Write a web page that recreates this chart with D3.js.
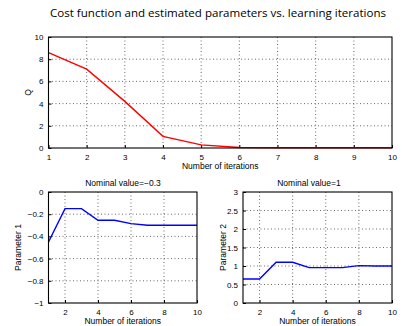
<!DOCTYPE html>
<html>
<head>
<meta charset="utf-8">
<script src="https://cdn.jsdelivr.net/npm/d3@7"></script>
<style>
  body { margin: 0; background: #fff; }
  svg { display: block; }
  text { font-family: "Liberation Sans", Arial, sans-serif; fill: #000; }
</style>
</head>
<body>
<svg id="chart" width="402" height="326"></svg>
<script>
let iterations = [1, 2, 3, 4, 5, 6, 7, 8, 9, 10];
let cost_q = [8.6, 7.1, 4.2, 1.05, 0.28, 0.05, 0.02, 0.02, 0.02, 0.02];
let param1 = [-0.45, -0.15, -0.15, -0.255, -0.255, -0.285, -0.3, -0.3, -0.3, -0.3];
let param2 = [0.65, 0.65, 1.1, 1.1, 0.955, 0.955, 0.955, 1.01, 1.0, 1.0];

let q_ticks = [0, 2, 4, 6, 8, 10];
let p1_ticks = [0, -0.2, -0.4, -0.6, -0.8, -1];
let p2_ticks = [0, 0.5, 1, 1.5, 2, 2.5, 3];
let top_xticks = [1, 2, 3, 4, 5, 6, 7, 8, 9, 10];
let bot_xticks = [2, 4, 6, 8, 10];

let svg = d3.select("#chart");

svg.append("text")
    .attr("x", 218)
    .attr("y", 17)
    .attr("text-anchor", "middle")
    .attr("font-size", 11)
    .attr("textLength", 336)
    .attr("lengthAdjust", "spacingAndGlyphs")
    .style("font-family", "'Open Sans', sans-serif")
    .text("Cost function and estimated parameters vs. learning iterations");

function fmt(v) {
    return String(v).replace("-", "\u2212");
}

function panel(opt) {
    let x = d3.scaleLinear().domain([1, 10]).range([opt.left, opt.right]);
    let y = d3.scaleLinear().domain(opt.ydom).range([opt.bottom, opt.top]);
    let g = svg.append("g");

    // grid
    g.append("g").selectAll("line")
        .data(opt.xticks.filter(d => d > 1 && d < 10))
        .join("line")
        .attr("x1", d => x(d)).attr("x2", d => x(d))
        .attr("y1", opt.top).attr("y2", opt.bottom)
        .attr("stroke", "#444").attr("stroke-width", 0.8)
        .attr("stroke-dasharray", "1,2.5");
    g.append("g").selectAll("line")
        .data(opt.yticks.filter(d => d > opt.ydom[0] && d < opt.ydom[1]))
        .join("line")
        .attr("y1", d => y(d)).attr("y2", d => y(d))
        .attr("x1", opt.left).attr("x2", opt.right)
        .attr("stroke", "#444").attr("stroke-width", 0.8)
        .attr("stroke-dasharray", "1,2.5");

    // axes, ticks inside
    let xa = g.append("g")
        .attr("transform", `translate(0,${opt.bottom})`)
        .call(d3.axisBottom(x).tickValues(opt.xticks).tickSize(-3).tickPadding(6).tickFormat(fmt));
    let ya = g.append("g")
        .attr("transform", `translate(${opt.left},0)`)
        .call(d3.axisLeft(y).tickValues(opt.yticks).tickSize(-3).tickPadding(5).tickFormat(fmt));
    [xa, ya].forEach(a => {
        a.select(".domain").remove();
        a.selectAll("text").attr("font-size", 8).style("font-family", "'Liberation Sans', Arial, sans-serif");
        a.selectAll(".tick line").attr("stroke", "#000");
    });

    // line
    g.append("path")
        .datum(iterations.map((d, i) => [d, opt.values[i]]))
        .attr("fill", "none")
        .attr("stroke", opt.color)
        .attr("stroke-width", 1.4)
        .attr("d", d3.line().x(d => x(d[0])).y(d => y(d[1])));

    // box
    g.append("rect")
        .attr("x", opt.left).attr("y", opt.top)
        .attr("width", opt.right - opt.left).attr("height", opt.bottom - opt.top)
        .attr("fill", "none").attr("stroke", "#000").attr("stroke-width", 1.1);

    g.append("text")
        .attr("x", (opt.left + opt.right) / 2)
        .attr("y", opt.xlabelY)
        .attr("text-anchor", "middle")
        .attr("font-size", 8.5)
        .text("Number of iterations");

    g.append("text")
        .attr("transform", `translate(${opt.ylabelX},${(opt.top + opt.bottom) / 2}) rotate(-90)`)
        .attr("text-anchor", "middle")
        .attr("font-size", 8.5)
        .text(opt.ylabel);

    if (opt.title) {
        g.append("text")
            .attr("x", opt.titleX)
            .attr("y", opt.top - 6)
            .attr("text-anchor", "middle")
            .attr("font-size", 8.5)
            .text(opt.title);
    }
}

panel({
    left: 48.5, right: 392, top: 37, bottom: 148,
    ydom: [0, 10], yticks: q_ticks, xticks: top_xticks,
    values: cost_q, color: "#ff0000",
    ylabel: "Q", ylabelX: 31, xlabelY: 169
});

panel({
    left: 48.5, right: 197, top: 192, bottom: 303,
    ydom: [-1, 0], yticks: p1_ticks, xticks: bot_xticks,
    values: param1, color: "#0000ff",
    ylabel: "Parameter 1", ylabelX: 21, xlabelY: 324,
    title: "Nominal value=\u22120.3", titleX: 123
});

panel({
    left: 243, right: 392, top: 192, bottom: 303,
    ydom: [0, 3], yticks: p2_ticks, xticks: bot_xticks,
    values: param2, color: "#0000ff",
    ylabel: "Parameter 2", ylabelX: 226, xlabelY: 324,
    title: "Nominal value=1", titleX: 309
});
</script>
</body>
</html>
